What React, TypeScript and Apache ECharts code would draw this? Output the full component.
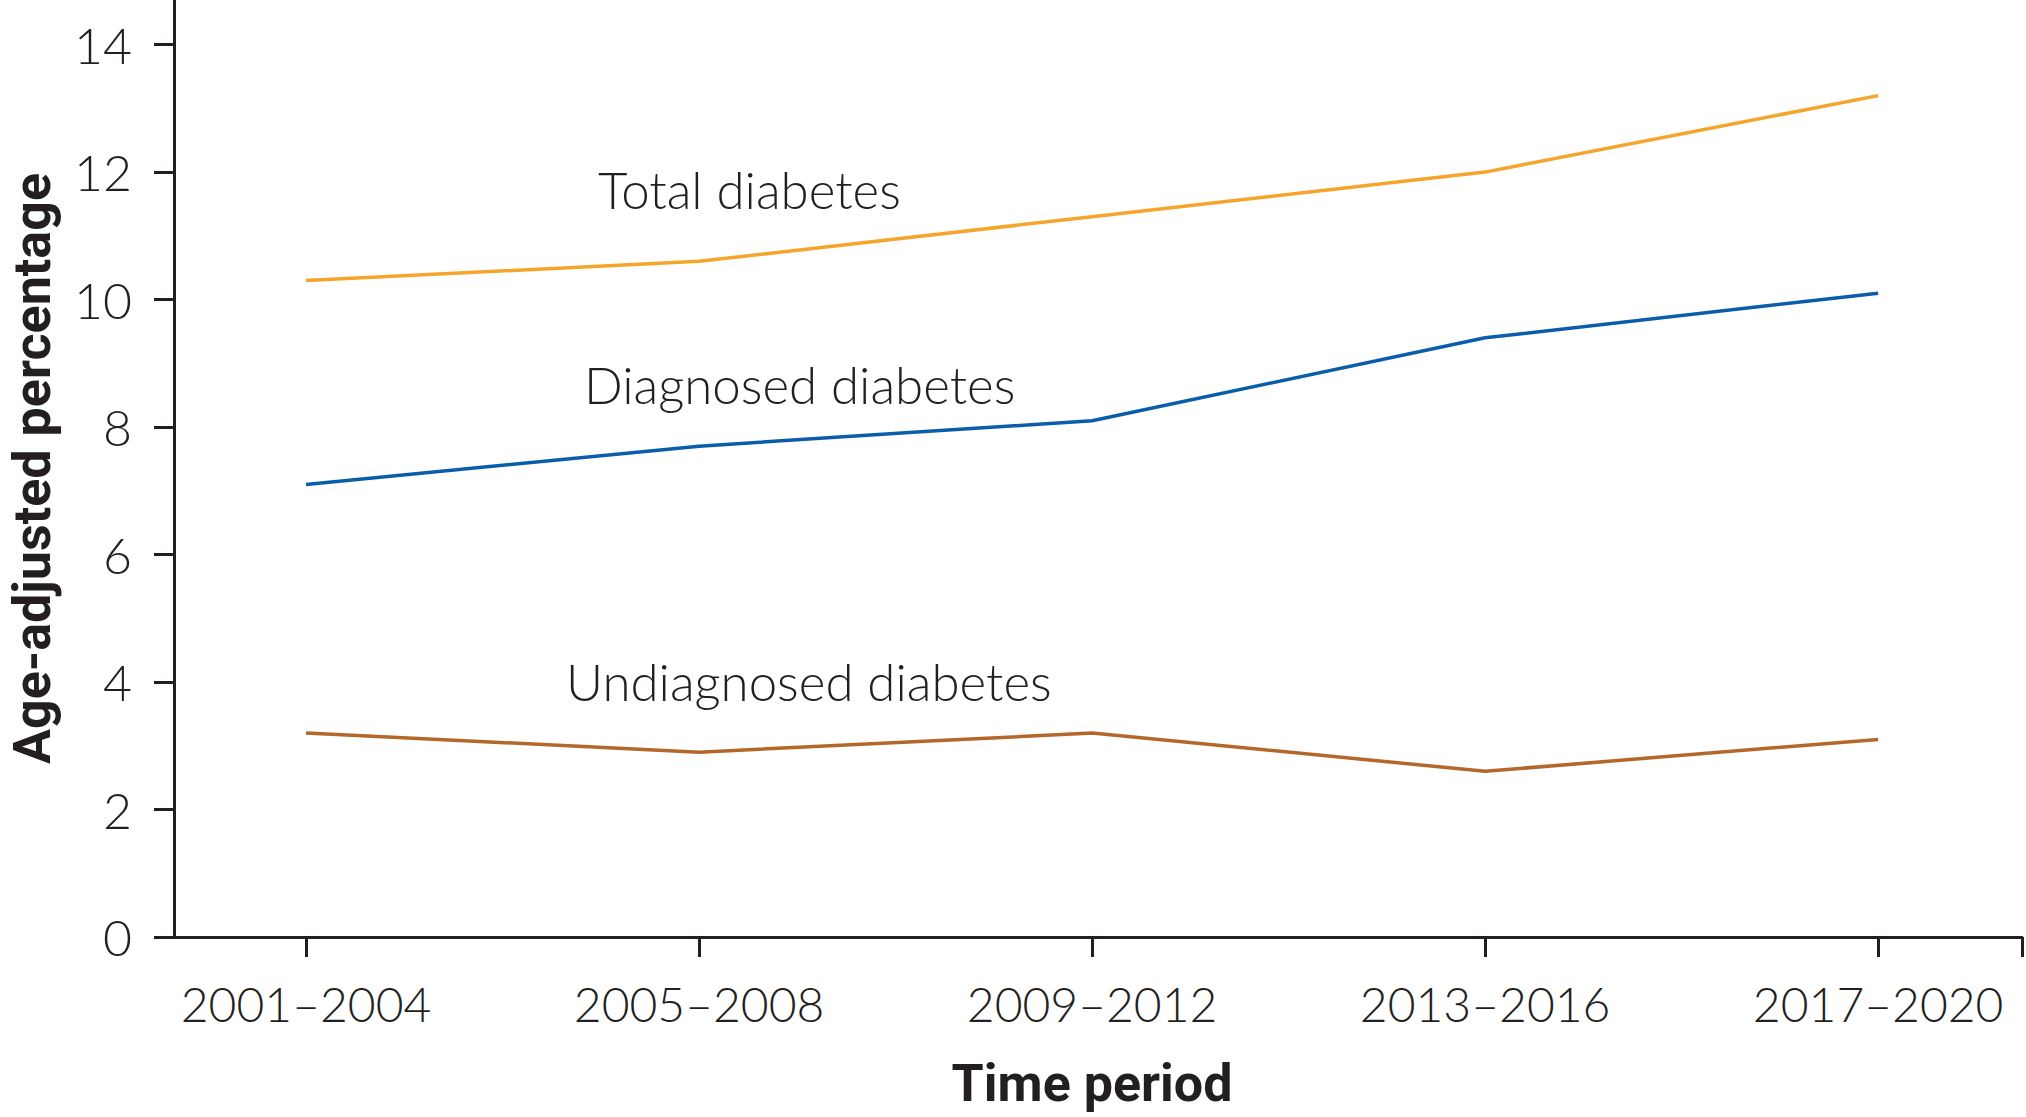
import React, { useEffect, useRef } from "react";
import * as echarts from "echarts";

const periods = ["2001–2004", "2005–2008", "2009–2012", "2013–2016", "2017–2020"];
const totalDiabetes = [10.3, 10.6, 11.3, 12.0, 13.2];
const diagnosedDiabetes = [7.1, 7.7, 8.1, 9.4, 10.1];
const undiagnosedDiabetes = [3.2, 2.9, 3.2, 2.6, 3.1];
const yTicks = [0, 2, 4, 6, 8, 10, 12, 14];
const seriesNames = ["Total diabetes", "Diagnosed diabetes", "Undiagnosed diabetes"];
const seriesColors = ["#F5A52C", "#0A5DAA", "#B4672A"];

const TEXT = "#231f20";
const LIGHT = "Lato, 'Open Sans', sans-serif";
const BOLD = "Roboto, 'Liberation Sans', sans-serif";

const X_MIN = -0.336;
const X_MAX = 4.366;

export default function App() {
  const ref = useRef<HTMLDivElement>(null);
  useEffect(() => {
    if (!ref.current) return;
    const chart = echarts.init(ref.current, null, { renderer: "svg" });
    const toPairs = (arr: number[]) => arr.map((v, i) => [i, v]);
    const allSeries = [totalDiabetes, diagnosedDiabetes, undiagnosedDiabetes];
    chart.setOption({
      animation: false,
      backgroundColor: "#ffffff",
      grid: { left: 174, right: 4, top: 0, bottom: 180, containLabel: false, outerBoundsMode: "none" },
      xAxis: {
        type: "value",
        min: X_MIN,
        max: X_MAX,
        name: "Time period",
        nameLocation: "middle",
        nameGap: 120,
        nameTextStyle: { fontFamily: BOLD, fontWeight: "bold", fontSize: 52, color: TEXT, padding: [0, 12, 0, 0] },
        axisLine: { show: true, onZero: false, lineStyle: { color: TEXT, width: 3 } },
        axisTick: { show: true, length: 20, lineStyle: { color: TEXT, width: 3 }, customValues: [0, 1, 2, 3, 4, X_MAX] },
        axisLabel: {
          customValues: [0, 1, 2, 3, 4],
          formatter: (v: number) => periods[Math.round(v)] ?? "",
          fontFamily: LIGHT,
          fontWeight: 300,
          fontSize: 48,
          color: TEXT,
          margin: 42,
        },
        splitLine: { show: false },
      },
      yAxis: {
        type: "value",
        min: 0,
        max: 14.7,
        name: "Age-adjusted percentage",
        nameLocation: "middle",
        nameGap: 116,
        nameRotate: 90,
        nameTextStyle: { fontFamily: BOLD, fontWeight: "bold", fontSize: 52, color: TEXT },
        axisLine: { show: true, onZero: false, lineStyle: { color: TEXT, width: 3 } },
        axisTick: { show: true, length: 20, lineStyle: { color: TEXT, width: 3 }, customValues: yTicks },
        axisLabel: {
          customValues: yTicks,
          fontFamily: LIGHT,
          fontWeight: 300,
          fontSize: 50,
          color: TEXT,
          margin: 42,
        },
        splitLine: { show: false },
      },
      graphic: [
        { type: "text", x: 598, y: 189, style: { text: seriesNames[0], fontFamily: LIGHT, fontWeight: 300, fontSize: 51, fill: TEXT, align: "left", verticalAlign: "middle" } },
        { type: "text", x: 584, y: 384, style: { text: seriesNames[1], fontFamily: LIGHT, fontWeight: 300, fontSize: 51, fill: TEXT, align: "left", verticalAlign: "middle" } },
        { type: "text", x: 566, y: 681, style: { text: seriesNames[2], fontFamily: LIGHT, fontWeight: 300, fontSize: 51, fill: TEXT, align: "left", verticalAlign: "middle" } },
      ],
      series: allSeries.map((arr, k) => ({
        type: "line",
        name: seriesNames[k],
        data: toPairs(arr),
        symbol: "none",
        lineStyle: { color: seriesColors[k], width: 3.5 },
        itemStyle: { color: seriesColors[k] },
      })),
    });
    return () => chart.dispose();
  }, []);
  return <div ref={ref} style={{ position: "absolute", left: 0, top: 0, width: 2026, height: 1117 }} />;
}
